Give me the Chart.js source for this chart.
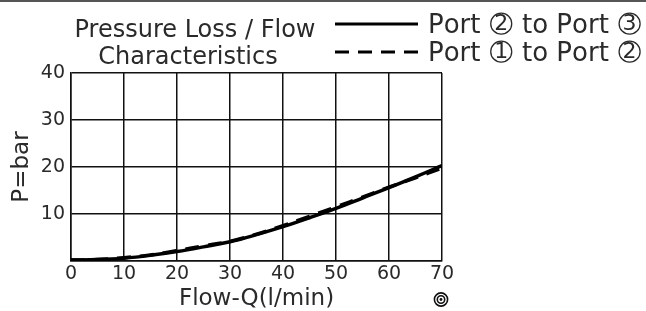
<!DOCTYPE html>
<html>
<head>
<meta charset="utf-8">
<script src="https://cdn.jsdelivr.net/npm/chart.js@4"></script>
<style>
    html, body { margin: 0; padding: 0; background: #fff; }
    #wrap { width: 646px; height: 311px; position: relative; }
</style>
</head>
<body>
<div id="wrap"><canvas id="lossChart"></canvas></div>
<script>
const FLOW        = [0, 5, 10, 15, 20, 25, 30, 35, 40, 45, 50, 55, 60, 65, 70];
const PORT_2_TO_3 = [0.2, 0.3, 0.6, 1.2, 2.0, 3.0, 4.1, 5.6, 7.3, 9.2, 11.2, 13.4, 15.6, 17.9, 20.3];
const PORT_1_TO_2 = [0.2, 0.3, 0.7, 1.3, 2.2, 3.2, 4.2, 5.7, 7.5, 9.5, 11.5, 13.6, 15.7, 17.7, 19.8];
const SERIES_LABELS = ['Port \u2461 to Port \u2462', 'Port \u2460 to Port \u2461'];
const TITLE_LINES = ['Pressure Loss / Flow', 'Characteristics'];
const X_TICKS = [0, 10, 20, 30, 40, 50, 60, 70];
const Y_TICKS = [10, 20, 30, 40];

const FONT = "'DejaVu Sans', sans-serif";
const TEXT = '#2a2a2a';

function toPoints(values)
{
    return FLOW.map((q, i) => ({ x: q, y: values[i] }));
}

function circledNumber(ch)
{
    const c = ch.codePointAt(0);
    return (c >= 0x2460 && c <= 0x2473) ? c - 0x2460 + 1 : 0;
}

// the circled digits in the installed fonts are tiny, so the circle is drawn by hand
function drawLabel(ctx, text, x, y, size)
{
    let pos = x;
    const r = 10.5;

    for (const ch of text)
    {
        const n = circledNumber(ch);

        if (n)
        {
            const cx = pos + 2 + r;
            const cy = y - size * 0.36;

            ctx.beginPath();
            ctx.arc(cx, cy, r, 0, Math.PI * 2);
            ctx.lineWidth = 1.3;
            ctx.strokeStyle = TEXT;
            ctx.stroke();

            ctx.font = `${size - 4}px ${FONT}`;
            ctx.textAlign = 'center';
            ctx.textBaseline = 'middle';
            ctx.fillText(String(n), cx, cy + 1);
            ctx.textAlign = 'left';
            ctx.textBaseline = 'alphabetic';

            pos += 2 * r + 4;
        }
        else
        {
            ctx.font = `${size}px ${FONT}`;
            ctx.fillText(ch, pos, y);
            pos += ctx.measureText(ch).width;
        }
    }
}

// title, legend, top rule and the little target mark
const decorPlugin = {
    id: 'decor',
    afterDraw(chart)
    {
        const ctx = chart.ctx;
        ctx.save();

        ctx.fillStyle = '#555';
        ctx.fillRect(0, 0, chart.width, 2);

        ctx.fillStyle = TEXT;
        ctx.font = `24px ${FONT}`;
        ctx.textAlign = 'center';
        ctx.textBaseline = 'alphabetic';
        ctx.fillText(TITLE_LINES[0], 195, 37);
        ctx.fillText(TITLE_LINES[1], 188, 64);

        const rows = [24, 52];
        chart.data.datasets.forEach((ds, i) => {
            ctx.strokeStyle = ds.borderColor;
            ctx.lineWidth = 3;
            ctx.setLineDash(ds.borderDash || []);
            ctx.beginPath();
            ctx.moveTo(335, rows[i]);
            ctx.lineTo(418, rows[i]);
            ctx.stroke();
            ctx.setLineDash([]);

            ctx.fillStyle = TEXT;
            ctx.textAlign = 'left';
            drawLabel(ctx, ds.label, 428, rows[i] + 9, 26);
        });

        const cx = chart.chartArea.right - 1, cy = 299.5;
        ctx.strokeStyle = '#111';
        ctx.lineWidth = 1.6;
        ctx.beginPath(); ctx.arc(cx, cy, 6.6, 0, Math.PI * 2); ctx.stroke();
        ctx.beginPath(); ctx.arc(cx, cy, 3.7, 0, Math.PI * 2); ctx.stroke();
        ctx.fillStyle = '#111';
        ctx.beginPath(); ctx.arc(cx, cy, 1.4, 0, Math.PI * 2); ctx.fill();

        ctx.restore();
    }
};

const lossCtx = document.getElementById('lossChart').getContext('2d');

let lossChart = new Chart(lossCtx, {
    type: 'line',
    data: {
        datasets: [
            {
                label: SERIES_LABELS[0],
                data: toPoints(PORT_2_TO_3),
                borderColor: '#000',
                borderWidth: 3.5,
                pointRadius: 0,
                tension: 0.4,
                fill: false
            },
            {
                label: SERIES_LABELS[1],
                data: toPoints(PORT_1_TO_2),
                borderColor: '#000',
                borderWidth: 3.5,
                borderDash: [14, 9],
                pointRadius: 0,
                tension: 0.4,
                fill: false
            }
        ]
    },
    options: {
        responsive: true,
        maintainAspectRatio: false,
        animation: false,
        layout: { padding: { top: 73, right: 204, bottom: 0, left: 0 } },
        plugins: {
            legend: { display: false },
            tooltip: { enabled: false }
        },
        scales: {
            x: {
                type: 'linear',
                min: 0,
                max: 70,
                afterBuildTicks: scale => { scale.ticks = X_TICKS.map(v => ({ value: v })); },
                afterFit: scale => { scale.height = 50; },
                ticks: { color: TEXT, padding: 2, font: { family: FONT, size: 19 } },
                grid: { color: '#111', lineWidth: 1.5, drawTicks: false },
                border: { color: '#111', width: 1.5 },
                title: {
                    display: true,
                    text: 'Flow-Q(l/min)',
                    color: TEXT,
                    padding: { top: 0, bottom: 0 },
                    font: { family: FONT, size: 23, lineHeight: 1 }
                }
            },
            y: {
                min: 0,
                max: 40,
                afterBuildTicks: scale => { scale.ticks = [0, ...Y_TICKS].map(v => ({ value: v })); },
                afterFit: scale => { scale.width = 71; },
                ticks: {
                    color: TEXT,
                    padding: 6,
                    font: { family: FONT, size: 19 },
                    callback: v => (v === 0 ? '' : v)
                },
                grid: { color: '#111', lineWidth: 1.5, drawTicks: false },
                border: { color: '#111', width: 1.5 },
                title: {
                    display: true,
                    text: 'P=bar',
                    color: TEXT,
                    padding: { top: 11, bottom: 0 },
                    font: { family: FONT, size: 23, lineHeight: 1 }
                }
            }
        }
    },
    plugins: [decorPlugin]
});
</script>
</body>
</html>
